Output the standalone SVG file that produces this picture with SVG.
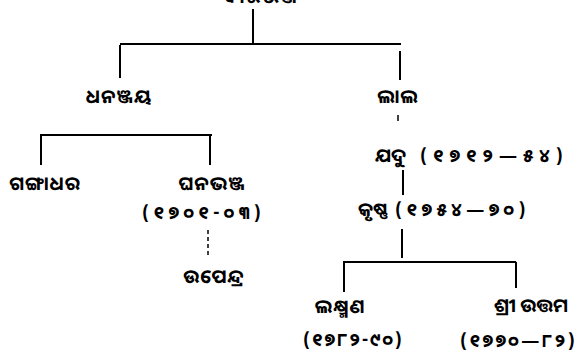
<svg xmlns="http://www.w3.org/2000/svg" width="584" height="361" viewBox="0 0 584 361">
<style>
text{font-family:"Noto Sans Oriya","Noto Serif Oriya","Lohit Odia","Noto Sans","DejaVu Sans",sans-serif;font-size:19px;font-weight:bold;fill:#000}
.n{text-anchor:middle;letter-spacing:1px}
.s{text-anchor:start}
.d{text-anchor:start;font-size:18px;letter-spacing:4.5px}
.c line{stroke:#000;stroke-width:2}
.c .dash{stroke-dasharray:4 3;stroke-width:1.5}
</style>
<rect width="584" height="361" fill="#fff"/>
<g class="c" id="connectors">
<line x1="253" y1="9" x2="253" y2="44"/>
<line x1="120" y1="44" x2="401" y2="44"/>
<line x1="120" y1="45" x2="120" y2="78"/>
<line x1="400" y1="51" x2="400" y2="80"/>
<line x1="398" y1="115" x2="398" y2="121" style="stroke-width:1.5"/>
<line x1="40" y1="135" x2="212" y2="135"/>
<line x1="41" y1="135" x2="41" y2="165"/>
<line x1="210" y1="135" x2="210" y2="165"/>
<line class="dash" x1="208" y1="230" x2="208" y2="258"/>
<line x1="403" y1="170" x2="403" y2="195"/>
<line x1="402" y1="229" x2="402" y2="258"/>
<line x1="343" y1="262" x2="516" y2="262"/>
<line x1="344" y1="262" x2="344" y2="292"/>
<line x1="516" y1="262" x2="516" y2="288"/>
</g>
<g id="n-top"><text class="n" x="260" y="3">ବୀରଭଞ୍ଜ</text></g>
<g id="n-dhananjaya"><text class="n" x="119" y="103">ଧନଞ୍ଜୟ</text></g>
<g id="n-right"><text class="n" x="398" y="103">ଲାଲ</text></g>
<g id="n-gangadhar"><text class="n" x="45" y="190">ଗଙ୍ଗାଧର</text></g>
<g id="n-ghana"><text class="n" x="212" y="190">ଘନଭଞ୍ଜ</text><text class="d" x="142" y="219">(୧୭୦୧-୦୩)</text></g>
<g id="n-upendra"><text class="n" x="214" y="283">ଉପେନ୍ଦ୍ର</text></g>
<g id="n-r2"><text class="s" x="375" y="162">ଯଦୁ</text><text class="d" x="420" y="162" style="letter-spacing:6px">(୧୭୧୨—୫୪)</text></g>
<g id="n-krishna"><text class="s" x="358" y="216">କୃଷ୍ଣ</text><text class="d" x="395" y="216">(୧୭୫୪—୭୦)</text></g>
<g id="n-lakshmana"><text class="n" x="340" y="313">ଲକ୍ଷ୍ମଣ</text><text class="d" x="303" y="346" style="letter-spacing:2px">(୧୭୮୨-୯୦)</text></g>
<g id="n-uttama"><text class="s" x="494" y="312">ଶ୍ରୀ ଉତ୍ତମ</text><text class="d" x="460" y="347" style="letter-spacing:2.5px">(୧୭୭୦—୮୨)</text></g>
</svg>
